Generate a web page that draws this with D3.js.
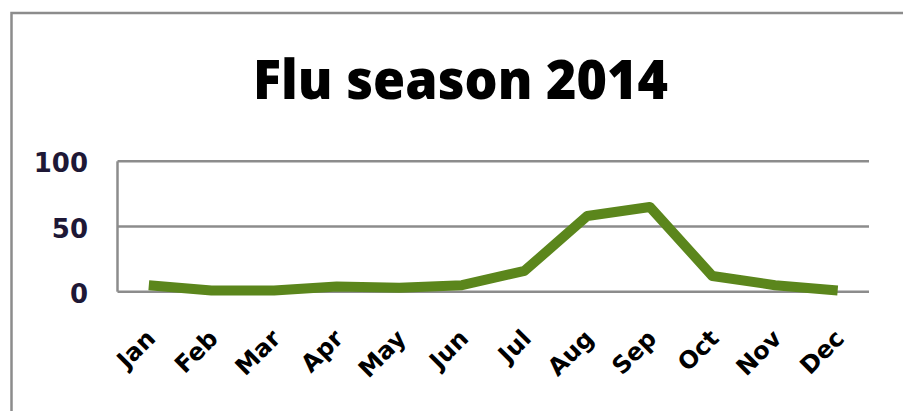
<!DOCTYPE html>
<html>
<head>
<meta charset="utf-8">
<script src="https://cdn.jsdelivr.net/npm/d3@7"></script>
<style>
  body { margin: 0; background: #fff; }
  svg { display: block; }
</style>
</head>
<body>
<div id="chart"></div>
<script>
// chart data
var months = ["Jan", "Feb", "Mar", "Apr", "May", "Jun", "Jul", "Aug", "Sep", "Oct", "Nov", "Dec"];
var fluCases = [5, 1, 1, 4, 3, 5, 16, 58, 65, 12, 5, 1];
var yTicks = [0, 50, 100];
var chartTitle = "Flu season 2014";

var width = 903,
    height = 411;

var svg = d3.select("#chart")
    .append("svg")
    .attr("width", width)
    .attr("height", height);

// outer frame (only top and left edges are visible)
svg.append("path")
    .attr("d", "M11.5,411 L11.5,13 L903,13")
    .attr("fill", "none")
    .attr("stroke", "#8c8c8c")
    .attr("stroke-width", 2.5);

var x = d3.scaleBand()
    .domain(months)
    .range([117.5, 869]);

var y = d3.scaleLinear()
    .domain([0, 100])
    .range([291.7, 161.3]);

// title
svg.append("text")
    .attr("x", 460.5)
    .attr("y", 99)
    .attr("text-anchor", "middle")
    .attr("font-family", "Open Sans")
    .attr("font-weight", "800")
    .attr("font-size", "55px")
    .attr("fill", "#000")
    .attr("textLength", 415)
    .attr("lengthAdjust", "spacingAndGlyphs")
    .text(chartTitle);

// gridlines
svg.append("g")
    .selectAll("line")
    .data(yTicks)
    .enter()
    .append("line")
    .attr("x1", x.range()[0])
    .attr("x2", x.range()[1])
    .attr("y1", function(d) { return y(d); })
    .attr("y2", function(d) { return y(d); })
    .attr("stroke", "#8c8c8c")
    .attr("stroke-width", 2.5);

// left axis line
svg.append("line")
    .attr("x1", x.range()[0])
    .attr("x2", x.range()[0])
    .attr("y1", y(100))
    .attr("y2", y(0))
    .attr("stroke", "#8c8c8c")
    .attr("stroke-width", 2.5);

// y tick labels
svg.append("g")
    .selectAll("text")
    .data(yTicks)
    .enter()
    .append("text")
    .attr("x", 88)
    .attr("y", function(d) { return y(d) + 11; })
    .attr("text-anchor", "end")
    .attr("font-family", "DejaVu Sans")
    .attr("font-weight", "bold")
    .attr("font-size", "26px")
    .attr("fill", "#1e1836")
    .text(function(d) { return d; });

// x labels, rotated
svg.append("g")
    .selectAll("text")
    .data(months)
    .enter()
    .append("text")
    .attr("transform", function(d) {
        var cx = x(d) + x.bandwidth() / 2 + 8;
        return "translate(" + cx + ",340) rotate(-45)";
    })
    .attr("text-anchor", "end")
    .attr("font-family", "DejaVu Sans")
    .attr("font-weight", "bold")
    .attr("font-size", "24px")
    .attr("fill", "#000")
    .text(function(d) { return d; });

// the data line
var line = d3.line()
    .x(function(d, i) { return x(months[i]) + x.bandwidth() / 2; })
    .y(function(d) { return y(d); });

svg.append("path")
    .datum(fluCases)
    .attr("d", line)
    .attr("fill", "none")
    .attr("stroke", "#5b861c")
    .attr("stroke-width", 10)
    .attr("stroke-linejoin", "round")
    .attr("stroke-linecap", "butt");
</script>
</body>
</html>
